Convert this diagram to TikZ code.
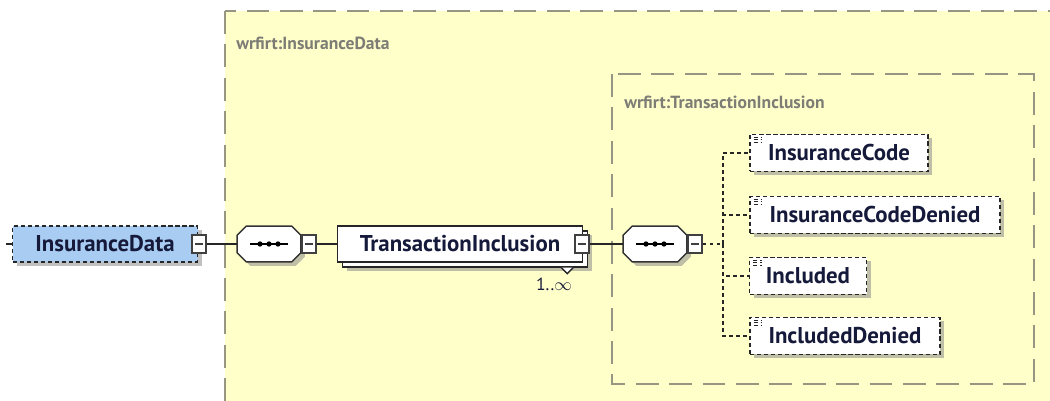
\documentclass[tikz,border=0pt]{standalone}
\usepackage{fontspec}
\setmainfont{PT Sans}
\usetikzlibrary{shadows}
\definecolor{xsdyellow}{RGB}{255,255,202}
\definecolor{xsdframe}{RGB}{150,150,130}
\definecolor{xsdblue}{RGB}{168,204,242}
\definecolor{xsdtext}{RGB}{22,26,58}
\definecolor{xsdlabel}{RGB}{125,125,118}
\def\px{0.02cm}
\tikzstyle{frame}=[draw=xsdframe, line width=1pt, dash pattern=on 13pt off 6pt]
\tikzstyle{grouplabel}=[inner sep=0pt, text=xsdlabel, font=\bfseries\fontsize{10}{12}\selectfont]
\tikzstyle{xshadow}=[drop shadow={shadow xshift=4*\px, shadow yshift=-4*\px, fill=black!45, opacity=.55}]
\tikzstyle{elem}=[rectangle, draw=black!85, fill=white, line width=.8pt,% plain element box
minimum height=36*\px, inner sep=0pt, text=xsdtext, font=\bfseries\fontsize{13}{15}\selectfont]
\tikzstyle{optelem}=[elem, line width=1pt, dash pattern=on 2.4pt off 1.6pt, xshadow]
\tikzstyle{stackelem}=[elem,
drop shadow={shadow xshift=9*\px, shadow yshift=-9*\px, fill=black!45, opacity=.55},
copy shadow={shadow xshift=5*\px, shadow yshift=-5*\px}]
\tikzstyle{childelem}=[optelem, minimum height=37*\px,
path picture={\draw[black!85, line width=.6pt]
  ([xshift=2pt,yshift=-1.5pt]path picture bounding box.north west) -- ++(5pt,0)
  ([xshift=2pt,yshift=-3pt]path picture bounding box.north west) -- ++(5pt,0)
  ([xshift=2pt,yshift=-4.5pt]path picture bounding box.north west) -- ++(5pt,0);}]
\tikzstyle{minusbox}=[rectangle, draw=black!75, fill=white, line width=.7pt,
minimum width=14*\px, minimum height=18*\px, inner sep=0pt,
path picture={\draw[black!75, line width=.7pt] ([xshift=1.8pt]path picture bounding box.west) -- ([xshift=-1.8pt]path picture bounding box.east);}]
\tikzstyle{seqbox}=[rectangle, minimum width=63*\px, minimum height=35*\px, inner sep=0pt]
\tikzstyle{seqline}=[draw=black!80, fill=white, line width=.8pt, xshadow]
\tikzstyle{link}=[black!85, line width=.8pt]
\tikzstyle{optlink}=[link, dash pattern=on 2pt off 2pt]

\begin{document}
\begin{tikzpicture}[x=0.02cm, y=-0.02cm]
\useasboundingbox (0,0) rectangle (1050,401);
\clip (0,0) rectangle (1050,401);
% group frames
\draw[frame, fill=xsdyellow] (225,11) rectangle (1080,430);
\node[grouplabel, anchor=west] (grpA) at (236,43) {wrfirt:InsuranceData};
\draw[frame] (612,74) rectangle (1034,384);
\node[grouplabel, anchor=west] (grpB) at (624,102) {wrfirt:TransactionInclusion};

\coordinate (root) at (6,244);
\node[optelem, fill=xsdblue, minimum width=185*\px] (insdata) at (105,244) {InsuranceData};
\node[seqbox] (seqa) at (269,244) {};
\node[stackelem, minimum width=245*\px] (trans) at (460,244) {TransactionInclusion};
\draw[link, fill=white] ([xshift=-22*\px, yshift=-5*\px]trans.south east) -- ++(6*\px,-6*\px) -- ++(6*\px,6*\px);
\node[inner sep=0pt, text=xsdtext, font=\fontsize{10}{12}\selectfont] (mult) at (554,284) {1..$\infty$};
\node[seqbox] (seqb) at (655,244) {};
\coordinate (fork) at (723,244);

% sequence compositors
\foreach \s in {seqa,seqb}{
  \draw[seqline] ([xshift=9*\px]\s.north west) -- ([xshift=-9*\px]\s.north east)
    -- ([yshift=-9*\px]\s.north east) -- ([yshift=9*\px]\s.south east)
    -- ([xshift=-9*\px]\s.south east) -- ([xshift=9*\px]\s.south west)
    -- ([yshift=9*\px]\s.south west) -- ([yshift=-9*\px]\s.north west) -- cycle;
  \draw[black, line width=.8pt] ([xshift=13*\px]\s.west) -- ([xshift=-13*\px]\s.east);
  \foreach \d in {-9,0,9} \fill ([xshift=\d*\px]\s.center) circle (1.5pt);
}
\node[minusbox] (insm) at (199,244) {};
\node[minusbox] (seqam) at (309,244) {};
\node[minusbox] (transm) at (582,244) {};
\node[minusbox] (seqbm) at (695,244) {};

\node[childelem, minimum width=178*\px] (code) at (839,153) {InsuranceCode};
\node[childelem, minimum width=250*\px] (codeden) at (875,215) {InsuranceCodeDenied};
\node[childelem, minimum width=117*\px] (incl) at (808,276) {Included};
\node[childelem, minimum width=190*\px] (inclden) at (845,336) {IncludedDenied};

\draw[link] (root) -- (insdata.west);
\draw[link] (insm.east) -- (seqa.west);
\draw[link] (seqam.east) -- (trans.west);
\draw[link] (transm.east) -- (seqb.west);
\draw[optlink] (seqbm.east) -- (fork);
\foreach \c in {code,codeden,incl,inclden}
  \draw[optlink] (fork) |- (\c.west);
\end{tikzpicture}
\end{document}
